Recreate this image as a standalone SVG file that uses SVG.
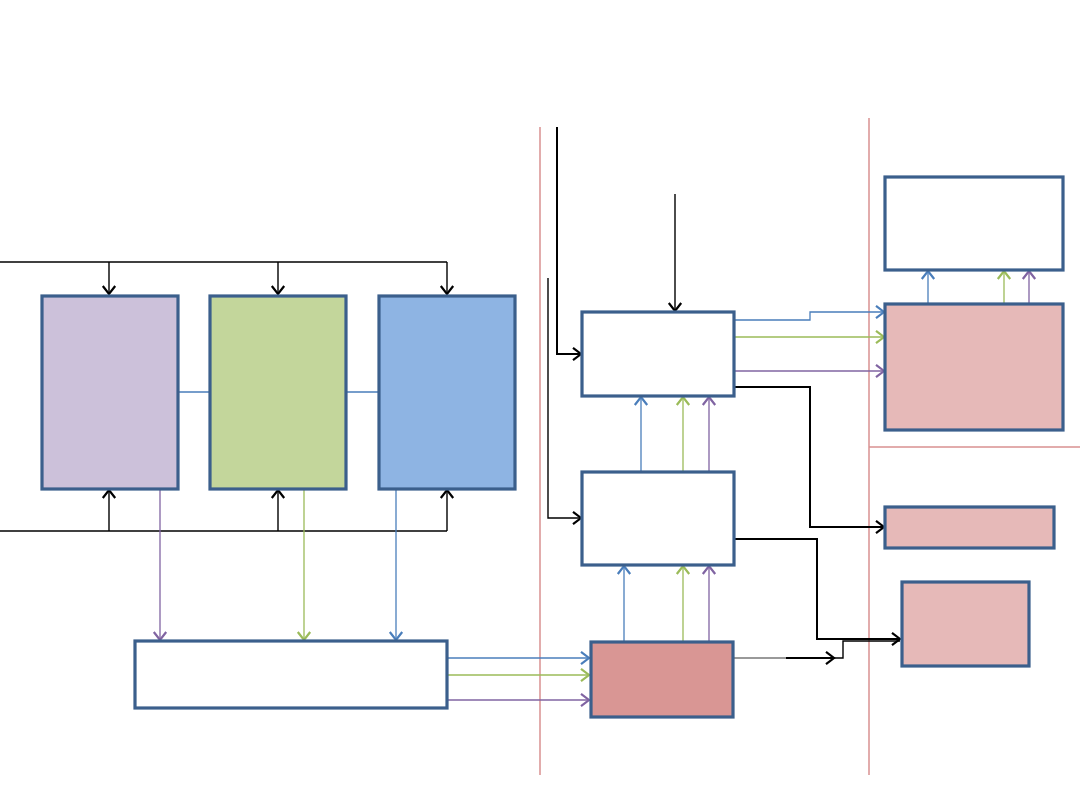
<svg xmlns="http://www.w3.org/2000/svg" width="1080" height="810" viewBox="0 0 1080 810">
<style>
.box{stroke:#3b5f8c;stroke-width:3.2}
.k{stroke:#000;fill:none;stroke-width:1.4}
.kk{stroke:#000;fill:none;stroke-width:2}
.b{stroke:#4a7ebb;fill:none;stroke-width:1.3}
.g{stroke:#9bbb59;fill:none;stroke-width:1.3}
.p{stroke:#8064a2;fill:none;stroke-width:1.3}
.sep{stroke:#d99190;stroke-width:1.5;fill:none}
</style>
<defs>
<marker id="ak" markerUnits="userSpaceOnUse" markerWidth="16" markerHeight="16" refX="12" refY="8" orient="auto"><path d="M4,1.8 L12,8 L4,14.2" fill="none" stroke="#000" stroke-width="2.2"/></marker>
<marker id="ab" markerUnits="userSpaceOnUse" markerWidth="16" markerHeight="16" refX="12" refY="8" orient="auto"><path d="M4,1.8 L12,8 L4,14.2" fill="none" stroke="#4a7ebb" stroke-width="2.2"/></marker>
<marker id="ag" markerUnits="userSpaceOnUse" markerWidth="16" markerHeight="16" refX="12" refY="8" orient="auto"><path d="M4,1.8 L12,8 L4,14.2" fill="none" stroke="#9bbb59" stroke-width="2.2"/></marker>
<marker id="ap" markerUnits="userSpaceOnUse" markerWidth="16" markerHeight="16" refX="12" refY="8" orient="auto"><path d="M4,1.8 L12,8 L4,14.2" fill="none" stroke="#8064a2" stroke-width="2.2"/></marker>
</defs>
<rect width="1080" height="810" fill="#fff"/>
<g id="separators">
<path class="sep" d="M540,127 V775"/>
<path class="sep" d="M869,118 V775"/>
<path class="sep" d="M869,447 H1080"/>
</g>
<g id="connectors">
<path class="k" d="M0,262 H447"/>
<path class="k" d="M109,262 V294" marker-end="url(#ak)"/>
<path class="k" d="M278,262 V294" marker-end="url(#ak)"/>
<path class="k" d="M447,262 V294" marker-end="url(#ak)"/>
<path class="k" d="M0,531 H447"/>
<path class="k" d="M109,531 V490" marker-end="url(#ak)"/>
<path class="k" d="M278,531 V490" marker-end="url(#ak)"/>
<path class="k" d="M447,531 V490" marker-end="url(#ak)"/>
<path class="b" d="M178,392 H210 M346,392 H379"/>
<path class="p" d="M160,489 V640" marker-end="url(#ap)"/>
<path class="g" d="M304,489 V640" marker-end="url(#ag)"/>
<path class="b" d="M396,489 V640" marker-end="url(#ab)"/>
<path class="b" d="M448,658 H589" marker-end="url(#ab)"/>
<path class="g" d="M448,675 H589" marker-end="url(#ag)"/>
<path class="p" d="M448,700 H589" marker-end="url(#ap)"/>
<path class="b" d="M624,642 V566" marker-end="url(#ab)"/>
<path class="g" d="M683,642 V566" marker-end="url(#ag)"/>
<path class="p" d="M709,642 V566" marker-end="url(#ap)"/>
<path class="b" d="M641,472 V397" marker-end="url(#ab)"/>
<path class="g" d="M683,472 V397" marker-end="url(#ag)"/>
<path class="p" d="M709,472 V397" marker-end="url(#ap)"/>
<path class="kk" d="M557,127 V354 H581" marker-end="url(#ak)"/>
<path class="k" d="M548,278 V518 H581" marker-end="url(#ak)"/>
<path class="k" d="M675,194 V311" marker-end="url(#ak)"/>
<path class="b" d="M734,320 H810 V312 H884" marker-end="url(#ab)"/>
<path class="g" d="M734,337 H884" marker-end="url(#ag)"/>
<path class="p" d="M734,371 H884" marker-end="url(#ap)"/>
<path class="b" d="M928,304 V271" marker-end="url(#ab)"/>
<path class="g" d="M1004,304 V271" marker-end="url(#ag)"/>
<path class="p" d="M1029,304 V271" marker-end="url(#ap)"/>
<path class="kk" d="M734,387 H810 V527 H884" marker-end="url(#ak)"/>
<path class="kk" d="M734,539 H817 V639 H900" marker-end="url(#ak)"/>
<path stroke="#777" stroke-width="1.5" fill="none" d="M734,658 H786"/>
<path class="kk" d="M786,658 H834" marker-end="url(#ak)"/>
<path class="k" d="M834,658 H843 V641 H900"/>
</g>
<g id="node-purple"><rect class="box" x="42" y="296" width="136" height="193" fill="#ccc1da"/></g>
<g id="node-green"><rect class="box" x="210" y="296" width="136" height="193" fill="#c3d69b"/></g>
<g id="node-blue"><rect class="box" x="379" y="296" width="136" height="193" fill="#8eb4e3"/></g>
<g id="node-bottom"><rect class="box" x="135" y="641" width="312" height="67" fill="#fff"/></g>
<g id="node-mid-top"><rect class="box" x="582" y="312" width="152" height="84" fill="#fff"/></g>
<g id="node-mid-middle"><rect class="box" x="582" y="472" width="152" height="93" fill="#fff"/></g>
<g id="node-mid-bottom"><rect class="box" x="591" y="642" width="142" height="75" fill="#d99694"/></g>
<g id="node-right-top"><rect class="box" x="885" y="177" width="178" height="93" fill="#fff"/></g>
<g id="node-right-pink"><rect class="box" x="885" y="304" width="178" height="126" fill="#e6b9b8"/></g>
<g id="node-right-narrow"><rect class="box" x="885" y="507" width="169" height="41" fill="#e6b9b8"/></g>
<g id="node-right-small"><rect class="box" x="902" y="582" width="127" height="84" fill="#e6b9b8"/></g>
</svg>
